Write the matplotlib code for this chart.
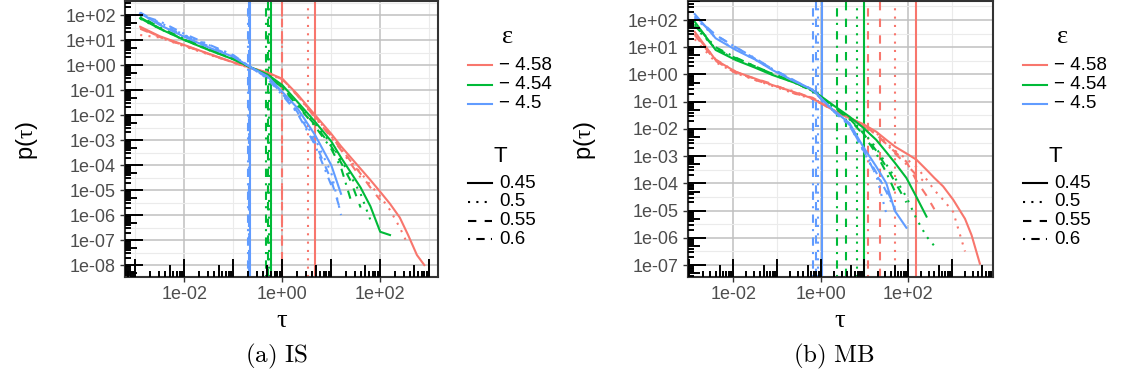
import numpy as np
import matplotlib
matplotlib.use("Agg")
import matplotlib.pyplot as plt
from matplotlib.lines import Line2D

plt.rcParams['font.family'] = ['Liberation Sans', 'DejaVu Sans']
plt.rcParams['mathtext.fontset'] = 'custom'
plt.rcParams['mathtext.rm'] = 'Liberation Serif'
plt.rcParams['mathtext.sf'] = 'Liberation Sans'
plt.rcParams['mathtext.it'] = 'Liberation Serif:italic'

eps_levels = [-4.58, -4.54, -4.5]
eps_labels = ['\u2212 4.58', '\u2212 4.54', '\u2212 4.5']
T_levels = [0.45, 0.5, 0.55, 0.6]
T_labels = ['0.45', '0.5', '0.55', '0.6']
colors = ['#F8766D', '#00BA38', '#619CFF']
styles = {0.45: '-', 0.5: (0, (1, 3)), 0.55: (0, (4, 4)), 0.6: (0, (1, 3, 4, 3))}

# ---- (a) IS : log10(tau) grid, log10 p(tau) per T (curves stop where the data stops)
is_logtau = [-2.9, -2.5, -2.0, -1.5, -1.0, -0.66, -0.3, 0.0, 0.3, 0.67, 1.0,
             1.2, 1.4, 1.6, 1.8, 2.0, 2.2, 2.4, 2.57, 2.75, 2.9]
is_red = {
    0.45: [1.53, 1.15, 0.8, 0.45, 0.11, -0.1, -0.3, -0.55, -1.15, -2.0, -2.75,
           -3.25, -3.7, -4.15, -4.6, -5.07, -5.55, -6.1, -6.8, -7.6, -8.0],
    0.5: [1.2, 1.1, 0.75, 0.42, 0.1, -0.12, -0.33, -0.58, -1.2, -2.05, -2.85,
          -3.35, -3.85, -4.3, -4.8, -5.25, -5.8, -6.5, -7.2],
    0.55: [1.45, 1.12, 0.78, 0.44, 0.1, -0.11, -0.31, -0.56, -1.18, -2.05, -2.85,
           -3.35, -3.85, -4.35, -4.9, -5.4],
    0.6: [1.5, 1.12, 0.78, 0.44, 0.1, -0.11, -0.31, -0.57, -1.2, -2.1, -2.9,
          -3.4, -3.95, -4.5],
}
is_green = {
    0.45: [1.87, 1.45, 1.0, 0.6, 0.23, -0.08, -0.38, -0.8, -1.45, -2.27, -3.05,
           -3.7, -4.3, -4.9, -5.65, -6.67, -6.8],
    0.5: [1.85, 1.45, 1.0, 0.6, 0.23, -0.08, -0.4, -0.85, -1.5, -2.35, -3.15,
          -3.8, -4.45, -5.15, -6.2],
    0.55: [1.9, 1.47, 1.02, 0.62, 0.24, -0.08, -0.42, -0.9, -1.55, -2.4, -3.25,
           -3.9, -4.65, -5.7],
    0.6: [1.95, 1.5, 1.05, 0.64, 0.25, -0.08, -0.43, -0.92, -1.6, -2.45, -3.35,
          -4.1, -5.4],
}
is_blue = {
    0.45: [2.07, 1.6, 1.13, 0.7, 0.33, -0.07, -0.45, -1.07, -1.7, -2.8, -4.0, -5.15],
    0.5: [2.0, 1.7, 1.2, 0.8, 0.38, -0.07, -0.5, -1.12, -1.8, -2.95, -4.3, -6.0],
    0.55: [2.1, 1.65, 1.18, 0.75, 0.35, -0.07, -0.52, -1.15, -1.85, -3.1, -4.6, -5.9],
    0.6: [2.0, 1.75, 1.25, 0.82, 0.4, -0.07, -0.55, -1.2, -1.9, -3.2, -4.8],
}
# log10 of the vertical reference lines
is_vline_red = {0.45: 0.67, 0.5: 0.52, 0.55: -0.01, 0.6: 0.0}
is_vline_green = {0.45: -0.22, 0.5: -0.26, 0.55: -0.29, 0.6: -0.33}
is_vline_blue = {0.45: -0.66, 0.5: -0.67, 0.55: -0.68, 0.6: -0.69}

# ---- (b) MB
mb_logtau = [-2.88, -2.4, -1.94, -1.5, -1.1, -0.6, -0.19, 0.28, 0.66, 0.97, 1.27,
             1.5, 1.7, 1.96, 2.19, 2.42, 2.6, 2.8, 3.03, 3.3, 3.45, 3.64]
mb_red = {
    0.45: [1.57, 0.53, 0.1, -0.15, -0.39, -0.65, -0.88, -1.3, -1.6, -1.82, -2.1,
           -2.4, -2.65, -2.9, -3.13, -3.5, -3.8, -4.11, -4.6, -5.3, -5.9, -6.95],
    0.5: [1.3, 0.45, 0.05, -0.2, -0.42, -0.7, -0.9, -1.3, -1.6, -1.85, -2.15,
          -2.5, -2.8, -3.1, -3.4, -3.85, -4.25, -4.6, -5.05, -6.5],
    0.55: [1.45, 0.5, 0.05, -0.15, -0.35, -0.7, -0.85, -1.28, -1.58, -1.85, -2.2,
           -2.55, -2.85, -3.2, -3.9, -4.45, -4.95],
    0.6: [1.5, 0.55, 0.1, -0.2, -0.4, -0.62, -0.88, -1.3, -1.62, -1.9, -2.2,
          -2.55, -2.9, -3.3, -3.7, -4.0],
}
mb_green = {
    0.45: [1.94, 0.9, 0.53, 0.25, -0.02, -0.3, -0.57, -1.12, -1.55, -1.95, -2.4,
           -2.85, -3.25, -3.8, -4.5, -5.22],
    0.5: [1.75, 0.95, 0.55, 0.28, 0.0, -0.3, -0.6, -1.15, -1.6, -2.1, -2.7,
          -3.3, -3.8, -4.5, -5.3, -5.95, -6.3],
    0.55: [1.8, 0.95, 0.6, 0.3, 0.02, -0.28, -0.6, -1.15, -1.62, -2.15, -2.8,
           -3.4, -3.95, -4.7],
    0.6: [1.85, 1.0, 0.62, 0.3, 0.03, -0.28, -0.62, -1.18, -1.65, -2.2, -2.9,
          -3.6, -4.3],
}
mb_blue = {
    0.45: [2.22, 1.33, 0.9, 0.55, 0.16, -0.25, -0.55, -1.3, -1.79, -2.65, -3.38,
           -3.99, -5.02, -5.63],
    0.5: [2.1, 1.35, 0.92, 0.55, 0.18, -0.23, -0.55, -1.32, -1.85, -2.8, -3.7, -5.1],
    0.55: [2.15, 1.45, 1.0, 0.58, 0.2, -0.22, -0.56, -1.32, -1.85, -2.75, -3.7,
           -4.2, -4.9],
    0.6: [2.1, 1.45, 1.0, 0.6, 0.2, -0.22, -0.58, -1.33, -1.88, -2.75, -3.6,
          -4.3, -5.0],
}
mb_vline_red = {0.45: 2.19, 0.5: 1.71, 0.55: 1.35, 0.6: 1.08}
mb_vline_green = {0.45: 0.98, 0.5: 0.83, 0.55: 0.57, 0.6: 0.37}
mb_vline_blue = {0.45: 0.02, 0.5: -0.07, 0.55: -0.1, 0.6: -0.18}

is_yticks = [2, 1, 0, -1, -2, -3, -4, -5, -6, -7, -8]
mb_yticks = [2, 1, 0, -1, -2, -3, -4, -5, -6, -7]
xticks = [-2, 0, 2]

W, H = 1123, 378
fig = plt.figure(figsize=(W / 100, H / 100), dpi=100)


def fmt(e):
    return '1e%s%02d' % ('+' if e >= 0 else '-', abs(e))


def panel(box, logtau, curves, vlines, xlim, ylim, yticks):
    x0, y0, x1, y1 = box
    ax = fig.add_axes([x0 / W, 1 - y1 / H, (x1 - x0) / W, (y1 - y0) / H])
    ax.set_xscale('log')
    ax.set_yscale('log')
    for c, cv, vl in zip(colors, curves, vlines):
        for T in T_levels:
            lp = cv[T]
            ax.plot(10.0 ** np.array(logtau[:len(lp)]), 10.0 ** np.array(lp),
                    color=c, ls=styles[T], lw=1.5, zorder=3)
            ax.axvline(10.0 ** vl[T], color=c, ls=styles[T], lw=1.5, zorder=2)

    # log tick annotation (bottom / left, inside panel)
    w_px, h_px = x1 - x0, y1 - y0
    xs, xl = [], []
    for d in range(int(np.floor(xlim[0])), int(np.ceil(xlim[1])) + 1):
        for k in range(1, 10):
            v = np.log10(k) + d
            if xlim[0] <= v <= xlim[1]:
                xs.append(10.0 ** v)
                xl.append({1: 18, 5: 12}.get(k, 6) / h_px)
    ax.vlines(xs, 0, xl, transform=ax.get_xaxis_transform(), color='black', lw=1.4, zorder=4)
    ys, yl = [], []
    for d in range(int(np.floor(ylim[0])), int(np.ceil(ylim[1])) + 1):
        for k in range(1, 10):
            v = np.log10(k) + d
            if ylim[0] <= v <= ylim[1]:
                ys.append(10.0 ** v)
                yl.append({1: 18, 5: 12}.get(k, 6) / w_px)
    ax.hlines(ys, 0, yl, transform=ax.get_yaxis_transform(), color='black', lw=1.4, zorder=4)

    ax.set_xticks([10.0 ** e for e in xticks])
    ax.set_xticklabels([fmt(e) for e in xticks])
    ax.set_xticks([10.0 ** e for e in range(-3, 4, 2)], minor=True)
    ax.set_xticklabels([], minor=True)
    ax.set_yticks([10.0 ** e for e in yticks])
    ax.set_yticklabels([fmt(e) for e in yticks])
    ax.set_yticks([10.0 ** (e + 0.5) for e in range(-9, 3)], minor=True)
    ax.set_yticklabels([], minor=True)
    ax.set_xlim(10.0 ** xlim[0], 10.0 ** xlim[1])
    ax.set_ylim(10.0 ** ylim[0], 10.0 ** ylim[1])
    ax.grid(which='major', color='#C0C0C0', lw=1.1, zorder=0)
    ax.grid(which='minor', color='#EBEBEB', lw=0.8, zorder=0)
    ax.set_axisbelow(True)
    ax.tick_params(which='major', length=3.5, width=1, color='#333333',
                   labelcolor='#4D4D4D', labelsize=13, pad=3)
    ax.tick_params(which='minor', length=0)
    for s in ax.spines.values():
        s.set_color('#333333')
        s.set_linewidth(1.5)
    return ax


panel((125, 1, 438, 277.3), is_logtau, [is_red, is_green, is_blue],
      [is_vline_red, is_vline_green, is_vline_blue], (-3.21, 3.18), (-8.49, 2.56), is_yticks)
panel((687.7, 1, 993, 277.3), mb_logtau, [mb_red, mb_green, mb_blue],
      [mb_vline_red, mb_vline_green, mb_vline_blue], (-3.04, 3.94), (-7.45, 2.70), mb_yticks)


def ftext(x, y, s, **kw):
    fig.text(x / W, 1 - y / H, s, **kw)


for cx, tx in [(27, 282), (585, 840)]:
    ftext(cx, 140, r'$\mathsf{p(}\mathrm{\tau}\mathsf{)}$', rotation=90, ha='center',
          va='center', size=17, color='black')
    ftext(tx, 321, '\u03c4', family='Liberation Serif', ha='center', va='center',
          size=19, color='black')

ftext(276, 356, r'$\mathrm{(a)\ IS}$', math_fontfamily='cm', ha='center', va='center', size=18)
ftext(834, 356, r'$\mathrm{(b)\ MB}$', math_fontfamily='cm', ha='center', va='center', size=18)


def legend(kx, tcx):
    ftext(tcx, 37, '\u03b5', family='Liberation Serif', ha='center', va='center', size=19)
    for i, (c, lab) in enumerate(zip(colors, eps_labels)):
        y = 65 + i * 19.5
        fig.add_artist(Line2D([kx / W, (kx + 24) / W], [1 - y / H, 1 - y / H],
                              color=c, lw=1.5, transform=fig.transFigure))
        ftext(kx + 31, y, lab, ha='left', va='center', size=13.5)
    ftext(tcx - 8, 157, 'T', ha='center', va='center', size=16)
    for i, (T, lab) in enumerate(zip(T_levels, T_labels)):
        y = 183 + i * 18.8
        fig.add_artist(Line2D([kx / W, (kx + 24) / W], [1 - y / H, 1 - y / H],
                              color='black', lw=1.5, ls=styles[T], transform=fig.transFigure))
        ftext(kx + 31, y, lab, ha='left', va='center', size=13.5)


legend(468, 508)
legend(1023, 1063)

plt.savefig('out.png', dpi=100)
